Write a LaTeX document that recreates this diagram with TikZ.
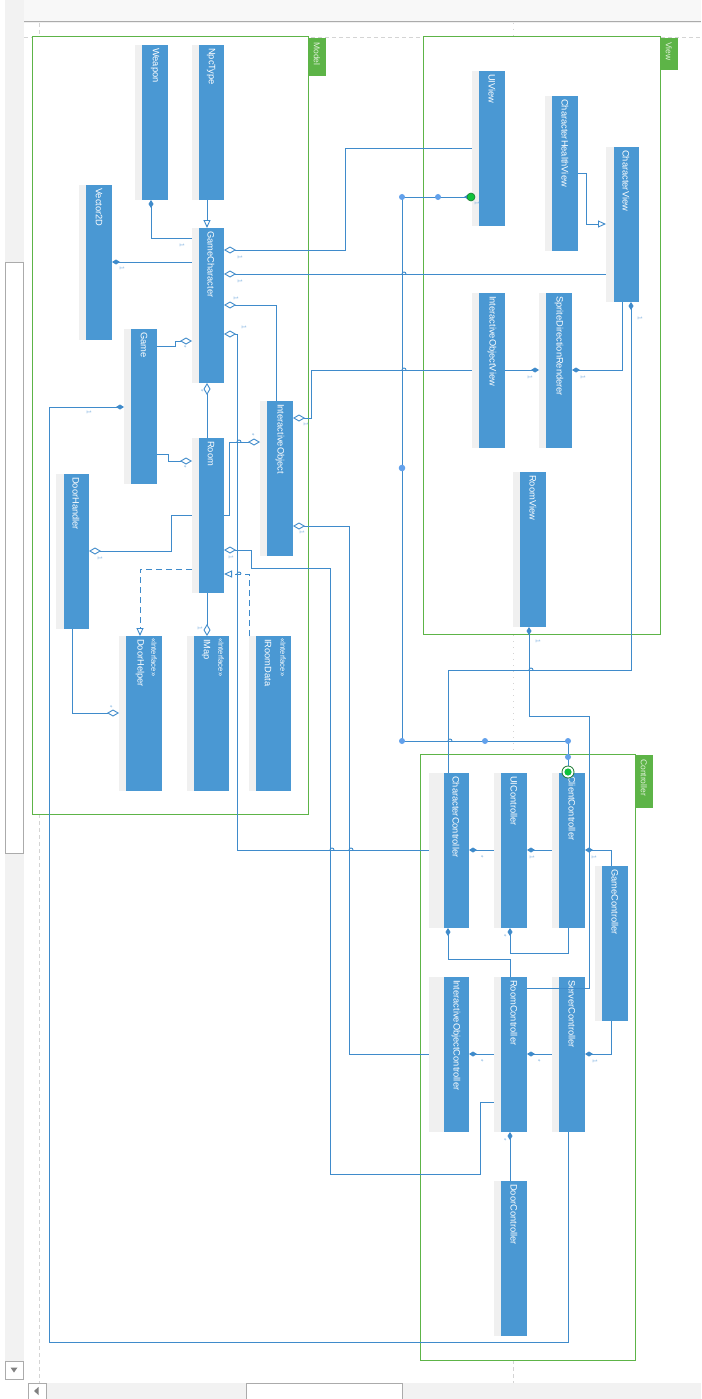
\documentclass[tikz,border=0pt]{standalone}
\usepackage{fontspec}
\setmainfont{Liberation Sans}
\usetikzlibrary{arrows.meta}
\definecolor{clsblue}{HTML}{4A98D3}
\definecolor{stripgray}{HTML}{F0F0F0}
\definecolor{lineblue}{HTML}{3F8BCB}
\definecolor{pkggreen}{HTML}{5DB447}
\definecolor{tabtext}{HTML}{E2F1DC}
\definecolor{multblue}{HTML}{86B6E2}
\definecolor{dotblue}{HTML}{62A1EC}
\definecolor{selgreen}{HTML}{10C23C}
\definecolor{seldark}{HTML}{1B7A31}
\definecolor{chromebg}{HTML}{F2F2F2}
\definecolor{chrometop}{HTML}{F8F8F8}
\definecolor{chromeline}{HTML}{ABABAB}
\definecolor{pageline}{HTML}{D4D4D4}
\tikzset{
  odia/.tip={Diamond[length=12pt,width=7pt,fill=white]},
  fdia/.tip={Diamond[length=8pt,width=5pt]},
  otri/.tip={Triangle[length=8pt,width=7pt,fill=white]},
  cls/.style={anchor=north west, inner sep=0pt, outer sep=0pt, fill=stripgray,
    minimum height=155pt,
    path picture={\fill[clsblue] ([xshift=#1]path picture bounding box.south west)
      rectangle (path picture bounding box.north east);}},
  cls/.default=7pt,
  clsname/.style={rotate=-90, anchor=west, text=white, inner sep=0pt,
    font=\fontsize{9.3}{11}\selectfont},
  stereo/.style={rotate=-90, anchor=west, text=white, inner sep=0pt,
    font=\fontsize{7.6}{9}\selectfont},
  pkg/.style={anchor=north west, draw=pkggreen, fill=white, line width=1pt,
    inner sep=0pt, outer sep=0pt},
  pkgtab/.style={anchor=north west, fill=pkggreen, inner sep=0pt, outer sep=0pt,
    minimum width=18pt},
  tabname/.style={rotate=-90, anchor=west, text=tabtext, inner sep=0pt,
    font=\fontsize{8.5}{10}\selectfont},
  conn/.style={draw=lineblue, line width=0.9pt},
  dashline/.style={dash pattern=on 6pt off 4pt},
  hop/.style={draw=lineblue, line width=0.9pt},
  mult/.style={rotate=-90, text=multblue, inner sep=0pt,
    font=\fontsize{6.5}{7}\selectfont},
  waypt/.style={fill=dotblue}
}
\begin{document}
\begin{tikzpicture}[x=1pt,y=-1pt]
\useasboundingbox (0,0) rectangle (701,1399);
\fill[white] (0,0) rectangle (701,1399);

% editor chrome
\fill[chrometop] (24,0) rectangle (701,21);
\draw[chromeline, line width=1pt] (24,21.5) -- (701,21.5);
\draw[stripgray, line width=1pt] (24,22.8) -- (701,22.8);
\fill[chromebg] (5,0) rectangle (24,1361);
\filldraw[fill=white, draw=chromeline, line width=0.8pt] (5.5,262) rectangle (23.5,853);
\filldraw[fill=white, draw=chromeline, line width=0.8pt] (5,1361.5) rectangle (23.5,1379.5);
\fill[gray] (10.5,1367.5) -- (17.5,1367.5) -- (14,1372.5) -- cycle;
\fill[chromebg] (46,1383) rectangle (701,1399);
\filldraw[fill=white, draw=chromeline, line width=0.8pt] (28,1383.5) rectangle (46,1400);
\fill[gray] (34,1391) -- (38.5,1387) -- (38.5,1395) -- cycle;
\filldraw[fill=white, draw=chromeline, line width=0.8pt] (246,1383.5) rectangle (402,1400);

% page boundaries
\draw[pageline, dash pattern=on 4pt off 3pt] (39,23) -- (39,1383);
\draw[pageline, dash pattern=on 1pt off 5pt] (513,23) -- (513,1360);
\draw[pageline, dash pattern=on 4pt off 3pt] (513,1360) -- (513,1383);
\draw[pageline, dash pattern=on 4pt off 3pt] (24,37) -- (701,37);

% packages
\node[pkg, minimum width=276pt, minimum height=777pt] (model) at (32,37) {};
\node[pkg, minimum width=237pt, minimum height=597pt] (view) at (423,37) {};
\node[pkg, minimum width=215pt, minimum height=606pt] (controller) at (420,754) {};
\node[pkgtab, minimum height=38pt] (modeltab) at (308,38) {};
\node[pkgtab, minimum height=32pt] (viewtab) at (660,38) {};
\node[pkgtab, minimum height=53pt] (ctrltab) at (635,755) {};
\node[tabname] (modeltabtext) at ([yshift=-4pt]modeltab.north) {Model};
\node[tabname] (viewtabtext) at ([yshift=-4pt]viewtab.north) {View};
\node[tabname] (ctrltabtext) at ([yshift=-4pt]ctrltab.north) {Controller};

% Model classes
\node[cls, minimum width=33pt] (weapon) at (135,45) {};
\node[cls, minimum width=32pt] (npc) at (192,45) {};
\node[cls, minimum width=33pt] (vec) at (79,185) {};
\node[cls, minimum width=32pt] (gc) at (192,228) {};
\node[cls, minimum width=33pt] (game) at (124,329) {};
\node[cls, minimum width=32pt] (room) at (192,438) {};
\node[cls, minimum width=33pt] (io) at (260,401) {};
\node[cls=8pt, minimum width=33pt] (dhandler) at (56,474) {};
\node[cls, minimum width=43pt] (dhelper) at (119,636) {};
\node[cls, minimum width=42pt] (imap) at (187,636) {};
\node[cls, minimum width=42pt] (iroom) at (249,636) {};

% View classes
\node[cls, minimum width=33pt] (uiview) at (472,71) {};
\node[cls, minimum width=33pt] (chv) at (545,96) {};
\node[cls=8pt, minimum width=33pt] (cv) at (606,147) {};
\node[cls, minimum width=33pt] (iov) at (472,293) {};
\node[cls, minimum width=33pt] (sdr) at (539,293) {};
\node[cls, minimum width=33pt] (rv) at (513,472) {};

% Controller classes
\node[cls=15pt, minimum width=40pt] (cc) at (429,773) {};
\node[cls, minimum width=33pt] (uic) at (494,773) {};
\node[cls, minimum width=33pt] (clc) at (552,773) {};
\node[cls, minimum width=33pt] (gcon) at (595,866) {};
\node[cls=15pt, minimum width=40pt] (ioc) at (429,977) {};
\node[cls, minimum width=33pt] (rc) at (494,977) {};
\node[cls, minimum width=33pt] (sc) at (552,977) {};
\node[cls, minimum width=33pt] (dc) at (494,1181) {};

% class names
\node[clsname] (weapontext) at ([xshift=-13pt,yshift=-3pt]weapon.north east) {Weapon};
\node[clsname] (npctext) at ([xshift=-13pt,yshift=-3pt]npc.north east) {NpcType};
\node[clsname] (vectext) at ([xshift=-13pt,yshift=-3pt]vec.north east) {Vector2D};
\node[clsname] (gctext) at ([xshift=-13pt,yshift=-3pt]gc.north east) {GameCharacter};
\node[clsname] (gametext) at ([xshift=-13pt,yshift=-3pt]game.north east) {Game};
\node[clsname] (roomtext) at ([xshift=-13pt,yshift=-3pt]room.north east) {Room};
\node[clsname] (iotext) at ([xshift=-13pt,yshift=-3pt]io.north east) {InteractiveObject};
\node[clsname] (dhandlertext) at ([xshift=-13pt,yshift=-3pt]dhandler.north east) {DoorHandler};
\node[stereo] (dhelperst) at ([xshift=-8pt,yshift=-2pt]dhelper.north east) {<<Interface>>};
\node[clsname] (dhelpertext) at ([xshift=-22pt,yshift=-3pt]dhelper.north east) {DoorHelper};
\node[stereo] (imapst) at ([xshift=-8pt,yshift=-2pt]imap.north east) {<<Interface>>};
\node[clsname] (imaptext) at ([xshift=-23pt,yshift=-3pt]imap.north east) {IMap};
\node[stereo] (iroomst) at ([xshift=-8pt,yshift=-2pt]iroom.north east) {<<Interface>>};
\node[clsname] (iroomtext) at ([xshift=-23pt,yshift=-3pt]iroom.north east) {IRoomData};
\node[clsname] (uiviewtext) at ([xshift=-13pt,yshift=-3pt]uiview.north east) {UIView};
\node[clsname] (chvtext) at ([xshift=-13pt,yshift=-3pt]chv.north east) {CharacterHealthView};
\node[clsname] (cvtext) at ([xshift=-13pt,yshift=-3pt]cv.north east) {CharacterView};
\node[clsname] (iovtext) at ([xshift=-13pt,yshift=-3pt]iov.north east) {InteractiveObjectView};
\node[clsname] (sdrtext) at ([xshift=-13pt,yshift=-3pt]sdr.north east) {SpriteDirectionRenderer};
\node[clsname] (rvtext) at ([xshift=-13pt,yshift=-3pt]rv.north east) {RoomView};
\node[clsname] (cctext) at ([xshift=-13pt,yshift=-3pt]cc.north east) {CharacterController};
\node[clsname] (uictext) at ([xshift=-13pt,yshift=-3pt]uic.north east) {UIController};
\node[clsname] (clctext) at ([xshift=-13pt,yshift=-3pt]clc.north east) {ClientController};
\node[clsname] (gcontext) at ([xshift=-13pt,yshift=-3pt]gcon.north east) {GameController};
\node[clsname] (ioctext) at ([xshift=-13pt,yshift=-3pt]ioc.north east) {InteractiveObjectController};
\node[clsname] (rctext) at ([xshift=-13pt,yshift=-3pt]rc.north east) {RoomController};
\node[clsname] (sctext) at ([xshift=-13pt,yshift=-3pt]sc.north east) {ServerController};
\node[clsname] (dctext) at ([xshift=-13pt,yshift=-3pt]dc.north east) {DoorController};

% Model connectors
\draw[conn, {fdia}-] (weapon.south -| 151,0) |- (gc.west |- 0,238);
\draw[conn, -{otri}] (npc.south -| 207,0) -- (gc.north -| 207,0);
\draw[conn, {fdia}-] (vec.east |- 0,262) -- (gc.west |- 0,262);
\draw[conn, {odia}-] (gc.east |- 0,250) -| (345,148) -- (uiview.west |- 0,148);
\draw[conn, {odia}-] (gc.east |- 0,274) -- (cv.west |- 0,274);
\draw[conn, {odia}-] (gc.east |- 0,305) -| (io.north -| 276,0);
\draw[conn, {odia}-] (gc.east |- 0,334) -| (237,850) -- (cc.west |- 0,850);
\draw[conn, -{odia}] (game.east |- 0,346) -| (175,341) -- (gc.west |- 0,341);
\draw[conn, -{odia}] (game.east |- 0,454) -| (168,461) -- (room.west |- 0,461);
\draw[conn, -{odia}] (room.north -| 207,0) -- (gc.south -| 207,0);
\draw[conn, -{odia}] (room.east |- 0,515) -| (229,442) -- (io.west |- 0,442);
\draw[conn, {odia}-] (io.east |- 0,418) -| (311,370) -- (iov.west |- 0,370);
\draw[conn, {odia}-] (io.east |- 0,526) -| (349,1054) -- (ioc.west |- 0,1054);
\draw[conn, {odia}-] (room.east |- 0,550) -| (251,568) -| (330,1174) -| (480,1102) -- (rc.west |- 0,1102);
\draw[conn, dashline, -{otri}] (iroom.north west) |- (room.east |- 0,574);
\draw[conn, dashline, -{otri}] (room.west |- 0,569) -| (dhelper.north -| 140,0);
\draw[conn, -{odia}] (room.south -| 207,0) -- (imap.north -| 207,0);
\draw[conn, {odia}-] (dhandler.east |- 0,551) -| (171,515) -- (room.west |- 0,515);
\draw[conn, -{odia}] (dhandler.south -| 72,0) |- (dhelper.west |- 0,713);
\draw[conn, {fdia}-] (game.west |- 0,407) -| (49,1342) -| (sc.south -| 568,0);

% View connectors
\draw[conn, -{otri}] (chv.east |- 0,173) -| (586,224) -- (cv.west |- 0,224);
\draw[conn, {fdia}-] (uiview.west |- 0,197) -| (402,741) -| (clc.north -| 568,0);
\draw[conn, -{fdia}] (cv.south -| 622,0) |- (sdr.east |- 0,370);
\draw[conn, -{fdia}] (iov.east |- 0,370) -- (sdr.west |- 0,370);
\draw[conn, {fdia}-] (cv.south -| 631,0) |- (448,670) -- (cc.north -| 448,0);
\draw[conn, {fdia}-] (rv.south -| 529,0) |- (589,716) |- (rc.east |- 0,988);

% Controller connectors
\draw[conn, {fdia}-] (cc.east |- 0,850) -- (uic.west |- 0,850);
\draw[conn, {fdia}-] (uic.east |- 0,850) -- (clc.west |- 0,850);
\draw[conn, {fdia}-] (clc.east |- 0,850) -| (gcon.north -| 611,0);
\draw[conn, -{fdia}] (clc.south -| 568,0) |- (510,953) -- (uic.south -| 510,0);
\draw[conn, -{fdia}] (rc.north -| 510,0) |- (448,959) -- (cc.south -| 448,0);
\draw[conn, {fdia}-] (ioc.east |- 0,1054) -- (rc.west |- 0,1054);
\draw[conn, {fdia}-] (rc.east |- 0,1054) -- (sc.west |- 0,1054);
\draw[conn, {fdia}-] (sc.east |- 0,1054) -| (gcon.south -| 611,0);
\draw[conn, -{fdia}] (dc.north -| 510,0) -- (rc.south -| 510,0);

% line jumps where connectors cross
\foreach \hx/\hy in {402/274, 402/370, 330/850, 349/850, 237/442, 237/574, 448/741, 529/670}
  \draw[hop] (\hx,\hy) arc[start angle=180, end angle=0, radius=2pt];

% waypoints and selection handles
\fill[waypt] (402,197) circle (3pt);
\fill[waypt] (438,197) circle (3pt);
\fill[waypt] (402,468) circle (3.3pt);
\fill[waypt] (402,741) circle (3pt);
\fill[waypt] (485,741) circle (3pt);
\fill[waypt] (568,741) circle (3pt);
\fill[waypt] (568,757) circle (3pt);
\filldraw[fill=selgreen, draw=seldark, line width=0.6pt] (471,197) circle (4pt);
\filldraw[fill=white, draw=seldark, line width=0.8pt] (568,772) circle (6pt);
\fill[selgreen] (568,772) circle (3.6pt);

% multiplicities
\node[mult] (m1) at (182,245) {1};
\node[mult] (m2) at (122,268) {1};
\node[mult] (m3) at (240,257) {1};
\node[mult] (m4) at (240,281) {1};
\node[mult] (m5) at (236,298) {1};
\node[mult] (m6) at (244,327) {1};
\node[mult] (m7) at (184,347) {*};
\node[mult] (m8) at (184,467) {*};
\node[mult] (m9) at (201,391) {*};
\node[mult] (m10) at (252,435) {*};
\node[mult] (m11) at (89,412) {1};
\node[mult] (m12) at (306,424) {1};
\node[mult] (m13) at (302,532) {1};
\node[mult] (m14) at (231,557) {1};
\node[mult] (m15) at (100,558) {1};
\node[mult] (m16) at (200,628) {1};
\node[mult] (m17) at (110,707) {*};
\node[mult] (m18) at (477,203) {1};
\node[mult] (m19) at (640,318) {1};
\node[mult] (m20) at (530,377) {1};
\node[mult] (m21) at (583,377) {1};
\node[mult] (m22) at (538,641) {1};
\node[mult] (m23) at (481,857) {*};
\node[mult] (m24) at (532,857) {1};
\node[mult] (m25) at (594,857) {1};
\node[mult] (m26) at (504,936) {*};
\node[mult] (m27) at (481,1061) {*};
\node[mult] (m28) at (538,1061) {*};
\node[mult] (m29) at (595,1061) {1};
\node[mult] (m30) at (504,1140) {*};
\end{tikzpicture}
\end{document}
